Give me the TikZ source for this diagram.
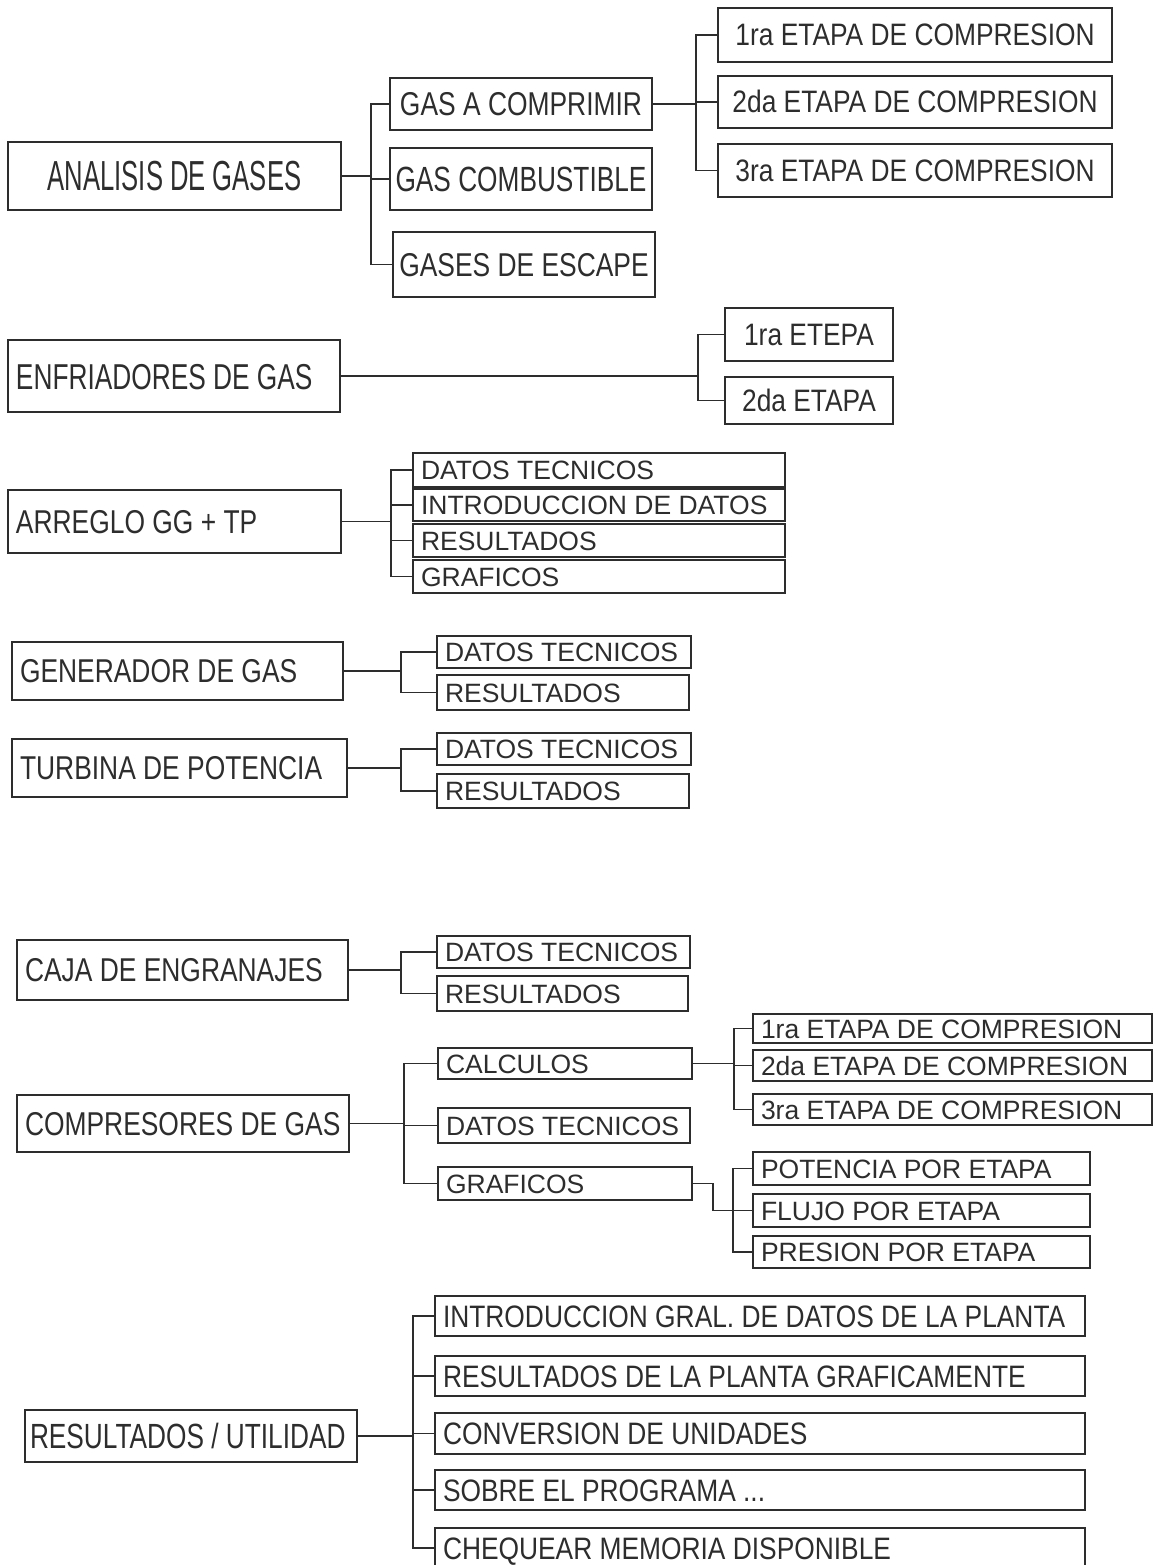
\documentclass[tikz,border=0pt]{standalone}
\usepackage{fontspec}
\setmainfont{Liberation Sans}
\newcommand{\setfnt}[2]{\fontspec{Liberation Sans}[FakeStretch=#2]\fontsize{#1}{#1}\selectfont}
\definecolor{inkgray}{RGB}{45, 45, 45}

\begin{document}
\begin{tikzpicture}[x=1pt, y=-1pt,
        box/.style={rectangle, draw=inkgray, line width=1.5pt, text=inkgray, inner sep=0pt, text depth=0pt},
        cbox/.style={box, align=center},
        lbox/.style={box, inner xsep=8pt, align=flush left},
        dims/.style 2 args={minimum width=#1, minimum height=#2},
        fnt/.style n args={3}{font=\setfnt{#1}{#2}, text height=#3},
        bigtxt/.style={fnt={42pt}{0.61}{30pt}},
        midtxt/.style={fnt={33pt}{0.8}{23.5pt}},
        enftxt/.style={fnt={36pt}{0.73}{26pt}},
        rigtxt/.style={fnt={31pt}{0.85}{22pt}},
        smalltxt/.style={fnt={26.5pt}{1.0}{19pt}},
        rutxt/.style={fnt={35pt}{0.75}{25pt}},
        link/.style={draw=inkgray, line width=1.5pt}
    ]
        \useasboundingbox (0,0) rectangle (1153,1565);

        % analisis de gases
        \node[cbox, bigtxt, dims={333pt}{68pt}] (ana) at (174.5,176) {ANALISIS DE GASES};
        \node[cbox, midtxt, dims={262pt}{52pt}] (gac) at (521,104) {GAS A COMPRIMIR};
        \node[cbox, rutxt, dims={262pt}{62pt}] (gcb) at (521,179) {GAS COMBUSTIBLE};
        \node[cbox, midtxt, dims={262pt}{65pt}] (gde) at (524,264.5) {GASES DE ESCAPE};
        \node[cbox, rigtxt, dims={394pt}{54pt}] (gac1) at (915,35) {1ra ETAPA DE COMPRESION};
        \node[cbox, rigtxt, dims={394pt}{52pt}] (gac2) at (915,102) {2da ETAPA DE COMPRESION};
        \node[cbox, rigtxt, dims={394pt}{53pt}] (gac3) at (915,170.5) {3ra ETAPA DE COMPRESION};

        \draw[link] (ana.east) -- ++(29,0) |- (gac.west);
        \draw[link] (ana.east) -- ++(29,0) |- (gcb.west);
        \draw[link] (ana.east) -- ++(29,0) |- (gde.west);
        \draw[link] (gac.east) -- ++(43,0) |- (gac1.west);
        \draw[link] (gac.east) -- ++(43,0) |- (gac2.west);
        \draw[link] (gac.east) -- ++(43,0) |- (gac3.west);

        % enfriadores
        \node[lbox, enftxt, text width=316pt, minimum height=72pt] (enf) at (174,376) {ENFRIADORES DE GAS};
        \node[cbox, rigtxt, dims={168pt}{53pt}] (enf1) at (809,334.5) {1ra ETEPA};
        \node[cbox, rigtxt, dims={168pt}{47pt}] (enf2) at (809,400.5) {2da ETAPA};

        \draw[link] (enf.east) -- ++(357,0) |- (enf1.west);
        \draw[link] (enf.east) -- ++(357,0) |- (enf2.west);

        % arreglo gg + tp
        \node[lbox, midtxt, text width=317pt, minimum height=63pt] (arr) at (174.5,521.5) {ARREGLO GG + TP};
        \node[lbox, smalltxt, text width=356pt, minimum height=34pt] (arr1) at (599,470) {DATOS TECNICOS};
        \node[lbox, smalltxt, text width=356pt, minimum height=32pt] (arr2) at (599,505) {INTRODUCCION DE DATOS};
        \node[lbox, smalltxt, text width=356pt, minimum height=33pt] (arr3) at (599,540.5) {RESULTADOS};
        \node[lbox, smalltxt, text width=356pt, minimum height=33pt] (arr4) at (599,576.5) {GRAFICOS};

        \draw[link] (arr.east) -- ++(49,0) |- (arr1.west);
        \draw[link] (arr.east) -- ++(49,0) |- (arr2.west);
        \draw[link] (arr.east) -- ++(49,0) |- (arr3.west);
        \draw[link] (arr.east) -- ++(49,0) |- (arr4.west);

        % generador de gas
        \node[lbox, midtxt, text width=315pt, minimum height=58pt] (gen) at (177.5,671) {GENERADOR DE GAS};
        \node[lbox, smalltxt, text width=238pt, minimum height=32pt] (gen1) at (564,652) {DATOS TECNICOS};
        \node[lbox, smalltxt, text width=236pt, minimum height=35pt] (gen2) at (563,692.5) {RESULTADOS};

        \draw[link] (gen.east) -- ++(57,0) |- (gen1.west);
        \draw[link] (gen.east) -- ++(57,0) |- (gen2.west);

        % turbina de potencia
        \node[lbox, midtxt, text width=319pt, minimum height=58pt] (tur) at (179.5,768) {TURBINA DE POTENCIA};
        \node[lbox, smalltxt, text width=238pt, minimum height=32pt] (tur1) at (564,749) {DATOS TECNICOS};
        \node[lbox, smalltxt, text width=236pt, minimum height=34pt] (tur2) at (563,791) {RESULTADOS};

        \draw[link] (tur.east) -- ++(53,0) |- (tur1.west);
        \draw[link] (tur.east) -- ++(53,0) |- (tur2.west);

        % caja de engranajes
        \node[lbox, midtxt, text width=315pt, minimum height=60pt] (caj) at (182.5,970) {CAJA DE ENGRANAJES};
        \node[lbox, smalltxt, text width=237pt, minimum height=32pt] (caj1) at (563.5,952) {DATOS TECNICOS};
        \node[lbox, smalltxt, text width=235pt, minimum height=35pt] (caj2) at (562.5,993.5) {RESULTADOS};

        \draw[link] (caj.east) -- ++(52,0) |- (caj1.west);
        \draw[link] (caj.east) -- ++(52,0) |- (caj2.west);

        % compresores de gas
        \node[lbox, midtxt, text width=316pt, minimum height=57pt] (com) at (183,1123.5) {COMPRESORES DE GAS};
        \node[lbox, smalltxt, text width=238pt, minimum height=31pt] (calc) at (565,1063.5) {CALCULOS};
        \node[lbox, smalltxt, text width=236pt, minimum height=35pt] (cdat) at (564,1125.5) {DATOS TECNICOS};
        \node[lbox, smalltxt, text width=238pt, minimum height=33pt] (cgra) at (565,1183.5) {GRAFICOS};
        \node[lbox, smalltxt, text width=383pt, minimum height=29pt] (calc1) at (952.5,1028.5) {1ra ETAPA DE COMPRESION};
        \node[lbox, smalltxt, text width=383pt, minimum height=31pt] (calc2) at (952.5,1065.5) {2da ETAPA DE COMPRESION};
        \node[lbox, smalltxt, text width=383pt, minimum height=31pt] (calc3) at (952.5,1109.5) {3ra ETAPA DE COMPRESION};
        \node[lbox, smalltxt, text width=321pt, minimum height=33pt] (cgra1) at (921.5,1168.5) {POTENCIA POR ETAPA};
        \node[lbox, smalltxt, text width=321pt, minimum height=33pt] (cgra2) at (921.5,1210.5) {FLUJO POR ETAPA};
        \node[lbox, smalltxt, text width=321pt, minimum height=32pt] (cgra3) at (921.5,1252) {PRESION POR ETAPA};
        \coordinate (grabus) at (733,1210.5);

        \draw[link] (com.east) -- ++(54,0) |- (calc.west);
        \draw[link] (com.east) -- ++(54,0) |- (cdat.west);
        \draw[link] (com.east) -- ++(54,0) |- (cgra.west);
        \draw[link] (calc.east) -- ++(41,0) |- (calc1.west);
        \draw[link] (calc.east) -- ++(41,0) |- (calc2.west);
        \draw[link] (calc.east) -- ++(41,0) |- (calc3.west);
        \draw[link] (cgra.east) -- ++(20,0) |- (grabus);
        \draw[link] (grabus) |- (cgra1.west);
        \draw[link] (grabus) |- (cgra2.west);
        \draw[link] (grabus) |- (cgra3.west);

        % resultados / utilidad
        \node[lbox, rutxt, inner xsep=5pt, text width=322pt, minimum height=52pt] (rut) at (191,1436) {RESULTADOS / UTILIDAD};
        \node[lbox, rigtxt, text width=634pt, minimum height=40pt] (rut1) at (760,1316) {INTRODUCCION GRAL. DE DATOS DE LA PLANTA};
        \node[lbox, rigtxt, text width=634pt, minimum height=40pt] (rut2) at (760,1376) {RESULTADOS DE LA PLANTA GRAFICAMENTE};
        \node[lbox, rigtxt, text width=634pt, minimum height=41pt] (rut3) at (760,1433.5) {CONVERSION DE UNIDADES};
        \node[lbox, rigtxt, text width=634pt, minimum height=40pt] (rut4) at (760,1490) {SOBRE EL PROGRAMA ...};
        \node[lbox, rigtxt, text width=634pt, minimum height=40pt] (rut5) at (760,1548) {CHEQUEAR MEMORIA DISPONIBLE};

        \draw[link] (rut.east) -- ++(55,0) |- (rut1.west);
        \draw[link] (rut.east) -- ++(55,0) |- (rut2.west);
        \draw[link] (rut.east) -- ++(55,0) |- (rut3.west);
        \draw[link] (rut.east) -- ++(55,0) |- (rut4.west);
        \draw[link] (rut.east) -- ++(55,0) |- (rut5.west);
    \end{tikzpicture}
\end{document}
